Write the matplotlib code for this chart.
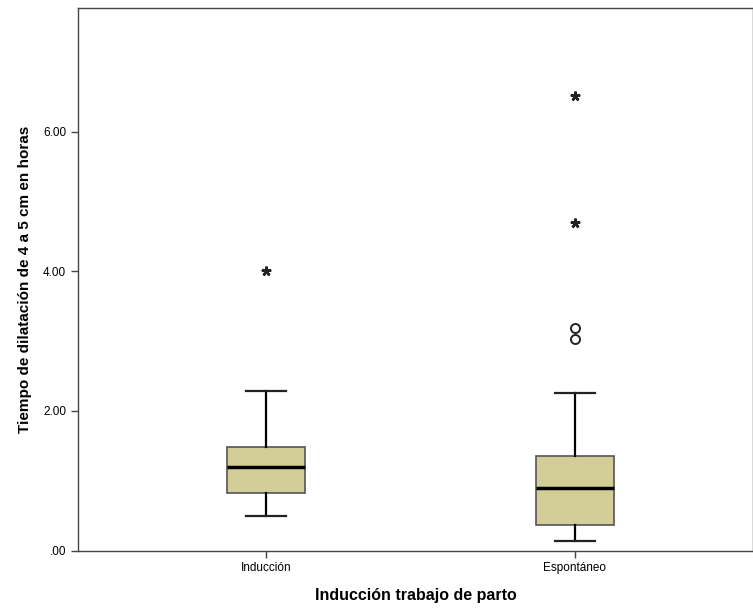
import matplotlib
matplotlib.use("Agg")
import matplotlib.pyplot as plt

plt.rcParams['font.family'] = ['Liberation Sans', 'DejaVu Sans']

categories = ["Inducción", "Espontáneo"]
whislo = [0.50, 0.13]
q1 = [0.82, 0.37]
med = [1.19, 0.90]
q3 = [1.48, 1.35]
whishi = [2.29, 2.25]
outliers_circle = [[], [3.03, 3.18]]
outliers_star = [[4.00], [4.69, 6.51]]
yticks = [0, 2, 4, 6]
ytick_labels = [".00", "2.00", "4.00", "6.00"]

fig = plt.figure(figsize=(7.53, 6.11), dpi=100)
ax = fig.add_axes([78/753, 60.5/611, 675/753, 542.5/611])

stats = []
for i, c in enumerate(categories):
    stats.append(dict(label=c, whislo=whislo[i], q1=q1[i], med=med[i],
                      q3=q3[i], whishi=whishi[i], fliers=[]))
positions = [1, 2]
ax.bxp(stats, positions=positions, widths=0.25, patch_artist=True,
       showfliers=False,
       boxprops=dict(facecolor="#D3CE98", edgecolor="#555555", linewidth=1.2),
       medianprops=dict(color="black", linewidth=2.5),
       whiskerprops=dict(color="black", linewidth=1.6),
       capprops=dict(color="#222222", linewidth=1.6),
       capwidths=0.127)

for i, p in enumerate(positions):
    if outliers_circle[i]:
        ax.plot([p]*len(outliers_circle[i]), outliers_circle[i], linestyle='none',
                marker='o', markersize=6.5, markerfacecolor='none',
                markeredgecolor='#222222', markeredgewidth=1.4)
    if outliers_star[i]:
        ax.plot([p]*len(outliers_star[i]), outliers_star[i], linestyle='none',
                marker=(5, 2, 0), markersize=7, markeredgewidth=1.8,
                color='#222222')

ax.set_xlim(0.392, 2.576)
ax.set_ylim(0, 7.77)
ax.set_yticks(yticks)
ax.set_yticklabels(ytick_labels, fontsize=8.5)
ax.set_xticks(positions)
ax.set_xticklabels(categories, fontsize=8.5)
ax.tick_params(direction='out', length=5, width=1, color='#444444')
for s in ax.spines.values():
    s.set_color('#444444')
    s.set_linewidth(1)
ax.set_ylabel("Tiempo de dilatación de 4 a 5 cm en horas", fontsize=11,
              fontweight='bold', labelpad=8)
ax.set_xlabel("Inducción trabajo de parto", fontsize=11.5, fontweight='bold',
              labelpad=10)

fig.savefig("out.png", dpi=100)
